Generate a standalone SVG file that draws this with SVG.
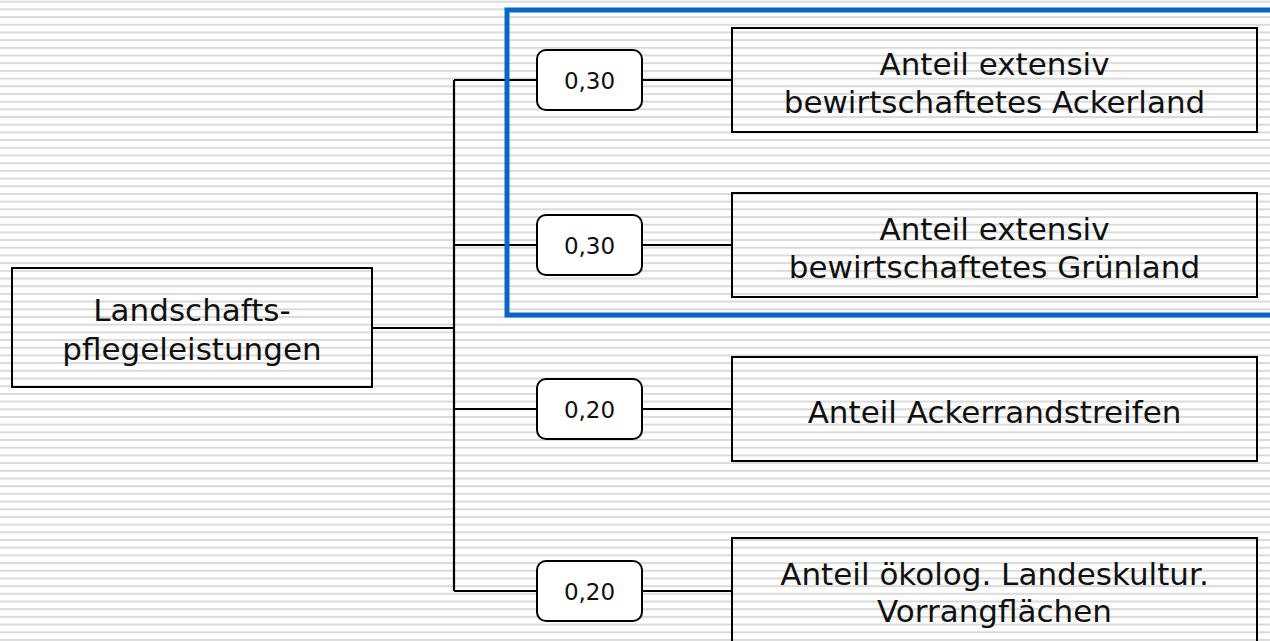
<svg xmlns="http://www.w3.org/2000/svg" width="1270" height="641" viewBox="0 0 1270 641">
  <defs>
    <!-- horizontal ruled background -->
    <pattern id="rules" patternUnits="userSpaceOnUse" x="0" y="0.7" width="1270" height="7.69">
      <rect x="0" y="0" width="1270" height="2" fill="#dadada"/>
    </pattern>
  </defs>
  <style>
    .node rect { fill: none; stroke: #000; stroke-width: 2; }
    .weight rect { fill: #fff; stroke: #000; stroke-width: 2; }
    .node text { font-family: "DejaVu Sans", Verdana, sans-serif; font-size: 31px; fill: #111; text-anchor: middle; }
    .weight text { font-family: "DejaVu Sans", Verdana, sans-serif; font-size: 23px; fill: #111; text-anchor: middle; }
    .wire { fill: none; stroke: #000; stroke-width: 2.2; }
    .focus { fill: none; stroke: #0766c6; stroke-width: 5; }
  </style>

  <rect x="0" y="0" width="1270" height="641" fill="#fff"/>
  <rect x="0" y="0" width="1270" height="641" fill="url(#rules)"/>

  <!-- connectors -->
  <g id="connectors">
    <path class="wire" d="M372 328 H454"/>
    <path class="wire" d="M454 80 V591"/>
    <path class="wire" d="M454 80 H732"/>
    <path class="wire" d="M454 245 H732"/>
    <path class="wire" d="M454 409 H732"/>
    <path class="wire" d="M454 591 H732"/>
  </g>

  <!-- root -->
  <g id="root" class="node">
    <rect x="12" y="268" width="360" height="119"/>
    <text x="192" y="321">Landschafts-</text>
    <text x="192" y="360">pflegeleistungen</text>
  </g>

  <!-- weights -->
  <g id="w1" class="weight">
    <rect x="537" y="50" width="105" height="60" rx="9"/>
    <text x="589.5" y="89">0,30</text>
  </g>
  <g id="w2" class="weight">
    <rect x="537" y="215" width="105" height="60" rx="9"/>
    <text x="589.5" y="254">0,30</text>
  </g>
  <g id="w3" class="weight">
    <rect x="537" y="379" width="105" height="60" rx="9"/>
    <text x="589.5" y="418">0,20</text>
  </g>
  <g id="w4" class="weight">
    <rect x="537" y="561" width="105" height="60" rx="9"/>
    <text x="589.5" y="600">0,20</text>
  </g>

  <!-- indicators -->
  <g id="n1" class="node">
    <rect x="732" y="28" width="525" height="104"/>
    <text x="994.5" y="75">Anteil extensiv</text>
    <text x="994.5" y="112.5">bewirtschaftetes Ackerland</text>
  </g>
  <g id="n2" class="node">
    <rect x="732" y="193" width="525" height="104"/>
    <text x="994.5" y="240">Anteil extensiv</text>
    <text x="994.5" y="277.5">bewirtschaftetes Grünland</text>
  </g>
  <g id="n3" class="node">
    <rect x="732" y="357" width="525" height="104"/>
    <text x="994.5" y="423">Anteil Ackerrandstreifen</text>
  </g>
  <g id="n4" class="node">
    <rect x="732" y="538" width="525" height="110"/>
    <text x="994.5" y="584.5">Anteil ökolog. Landeskultur.</text>
    <text x="994.5" y="622">Vorrangflächen</text>
  </g>

  <!-- highlight frame around the extensive-use indicators -->
  <rect id="highlight" class="focus" x="507" y="10" width="800" height="305"/>
</svg>
